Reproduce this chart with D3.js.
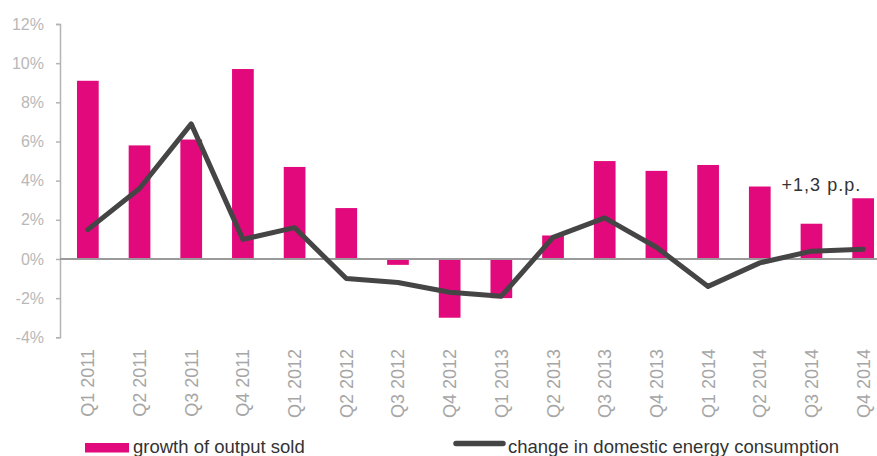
<!DOCTYPE html>
<html>
<head>
<meta charset="utf-8">
<script src="https://cdn.jsdelivr.net/npm/d3@7"></script>
<style>
  html, body { margin: 0; padding: 0; background: #fff; }
  svg { display: block; font-family: "Liberation Sans", Arial, sans-serif; }
</style>
</head>
<body>
<svg id="chart" width="877" height="456"></svg>
<script>
// Quarterly categories
const quarters = [
  "Q1 2011", "Q2 2011", "Q3 2011", "Q4 2011",
  "Q1 2012", "Q2 2012", "Q3 2012", "Q4 2012",
  "Q1 2013", "Q2 2013", "Q3 2013", "Q4 2013",
  "Q1 2014", "Q2 2014", "Q3 2014", "Q4 2014"
];
// Growth of output sold (%)
const outputGrowth = [9.1, 5.8, 6.1, 9.7, 4.7, 2.6, -0.3, -3.0, -2.0, 1.2, 5.0, 4.5, 4.8, 3.7, 1.8, 3.1];
// Change in domestic energy consumption (%)
const energyChange = [1.5, 3.6, 6.9, 1.0, 1.6, -1.0, -1.2, -1.7, -1.9, 1.1, 2.1, 0.6, -1.4, -0.2, 0.4, 0.5];
// Y-axis ticks (%)
const yTicks = [-4, -2, 0, 2, 4, 6, 8, 10, 12];
// Legend labels
const seriesNames = ["growth of output sold", "change in domestic energy consumption"];
// Annotation on the last quarter
const noteText = "+1,3 p.p.";

const pink = "#e2097c";
const dark = "#454545";

const svg = d3.select("#chart");

const x = d3.scaleBand()
  .domain(quarters)
  .range([62, 889])
  .paddingInner(0.58)
  .paddingOuter(0.29);

const y = d3.scaleLinear()
  .domain([-4, 12])
  .range([337.3, 24]);

// Y axis
const yAxis = d3.axisLeft(y)
  .tickValues(yTicks)
  .tickSize(4)
  .tickPadding(12)
  .tickFormat(d => d + "%");

const gy = svg.append("g")
  .attr("transform", "translate(60,0)")
  .call(yAxis);
gy.select(".domain").attr("stroke", "#b4b4b4").attr("stroke-width", 1.5);
gy.selectAll(".tick line").attr("stroke", "#b4b4b4").attr("stroke-width", 1.5);
gy.selectAll(".tick text")
  .attr("fill", "#b8b8b8")
  .attr("font-size", 16)
  .attr("font-family", "Liberation Sans, Arial, sans-serif");

// Bars
svg.append("g")
  .selectAll("rect")
  .data(outputGrowth)
  .join("rect")
  .attr("x", (d, i) => x(quarters[i]))
  .attr("width", x.bandwidth())
  .attr("y", d => y(Math.max(0, d)))
  .attr("height", d => Math.abs(y(d) - y(0)))
  .attr("fill", pink);

// Zero line
svg.append("line")
  .attr("x1", 60).attr("x2", 877)
  .attr("y1", y(0)).attr("y2", y(0))
  .attr("stroke", "#9a9a9a")
  .attr("stroke-width", 2);

// Energy consumption line
const line = d3.line()
  .x((d, i) => x(quarters[i]) + x.bandwidth() / 2)
  .y(d => y(d));

svg.append("path")
  .datum(energyChange)
  .attr("d", line)
  .attr("fill", "none")
  .attr("stroke", dark)
  .attr("stroke-width", 5)
  .attr("stroke-linejoin", "round")
  .attr("stroke-linecap", "round");

// X labels, rotated
svg.append("g")
  .selectAll("text")
  .data(quarters)
  .join("text")
  .attr("transform", d => `translate(${x(d) + x.bandwidth() / 2},349) rotate(-90)`)
  .attr("text-anchor", "end")
  .attr("dy", "0.36em")
  .attr("fill", "#a6a6a6")
  .attr("font-size", 18)
  .text(d => d);

// Annotation
svg.append("text")
  .attr("x", x(quarters[15]) + x.bandwidth() / 2 - 2)
  .attr("y", 191)
  .attr("text-anchor", "end")
  .attr("fill", "#333")
  .attr("font-size", 18)
  .attr("letter-spacing", 1)
  .text(noteText);

// Legend
const legend = svg.append("g");
legend.append("rect")
  .attr("x", 85).attr("y", 443)
  .attr("width", 44).attr("height", 9.5)
  .attr("fill", pink);
legend.append("text")
  .attr("x", 133).attr("y", 452.5)
  .attr("fill", "#333")
  .attr("font-size", 18.5)
  .text(seriesNames[0]);
legend.append("line")
  .attr("x1", 456).attr("x2", 503)
  .attr("y1", 443.5).attr("y2", 443.5)
  .attr("stroke", dark)
  .attr("stroke-width", 5.5)
  .attr("stroke-linecap", "round");
legend.append("text")
  .attr("x", 508).attr("y", 452.5)
  .attr("fill", "#333")
  .attr("font-size", 18.5)
  .text(seriesNames[1]);
</script>
</body>
</html>
